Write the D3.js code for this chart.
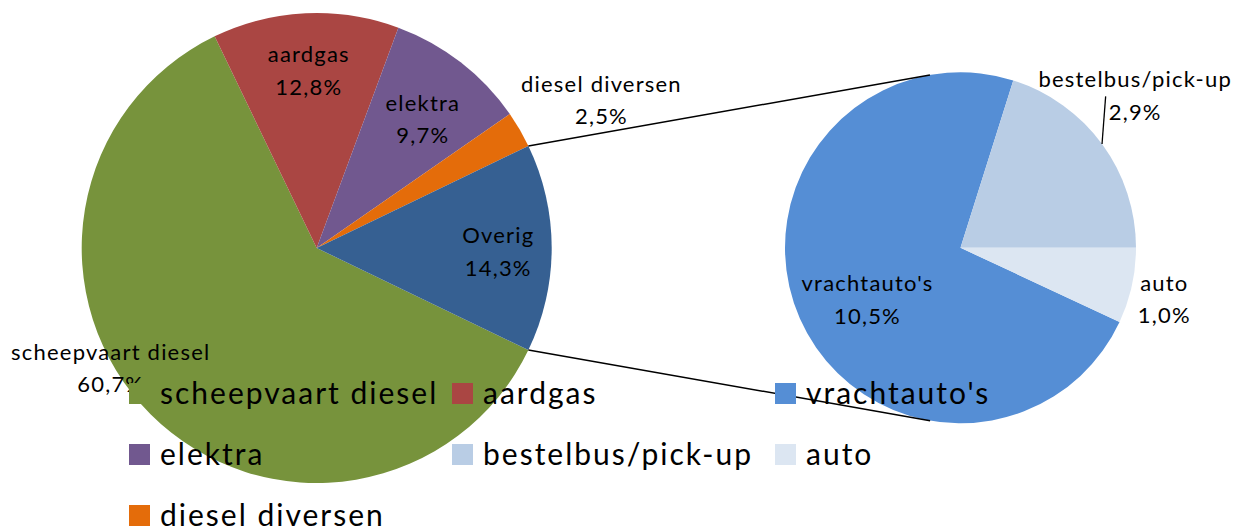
<!DOCTYPE html>
<html>
<head>
<meta charset="utf-8">
<script src="https://cdn.jsdelivr.net/npm/d3@7"></script>
<style>
  html, body { margin: 0; padding: 0; background: #ffffff; }
  svg { display: block; }
  text { font-family: Lato, "Open Sans", sans-serif; fill: #000; }
</style>
</head>
<body>
<svg id="chart" width="1236" height="528"></svg>
<script>
// ---- data ----
const mainCategories = ["scheepvaart diesel", "aardgas", "elektra", "diesel diversen", "Overig"];
const mainValues     = [60.7, 12.8, 9.7, 2.5, 14.3];
const mainLabels     = ["60,7%", "12,8%", "9,7%", "2,5%", "14,3%"];

const subCategories  = ["vrachtauto's", "bestelbus/pick-up", "auto"];
const subValues      = [10.5, 2.9, 1.0];
const subLabels      = ["10,5%", "2,9%", "1,0%"];

const legendOrder = ["scheepvaart diesel", "aardgas", "vrachtauto's",
                     "elektra", "bestelbus/pick-up", "auto", "diesel diversen"];

// ---- styling ----
const colors = {
  "scheepvaart diesel": "#77933C",
  "aardgas": "#AA4643",
  "elektra": "#71588F",
  "diesel diversen": "#E46C0A",
  "Overig": "#366092",
  "vrachtauto's": "#558ED5",
  "bestelbus/pick-up": "#B9CDE5",
  "auto": "#DCE6F2"
};

const W = 1236, H = 528;
const svg = d3.select("#chart");

const main = { cx: 316.7, cy: 248, r: 235 };
const sub  = { cx: 960.5, cy: 247.8, r: 175.5 };

// label placement: [radius factor, angle shift (deg)]
const labelPlace = {
  "scheepvaart diesel": [1.01, 15.5],
  "aardgas": [0.77, 0],
  "elektra": [0.72, 0.8],
  "diesel diversen": [1.37, 2.2],
  "Overig": [0.77, 0],
  "vrachtauto's": [0.6, -3.5],
  "bestelbus/pick-up": [1.33, -5.5],
  "auto": [1.19, 0.8]
};

// ---- main pie ----
const mainTotal = d3.sum(mainValues);
const overigIdx = mainCategories.indexOf("Overig");
const mainStart = Math.PI / 2 + Math.PI * mainValues[overigIdx] / mainTotal - 2 * Math.PI;
const mainPie = d3.pie().sort(null).value(d => d.v)
  .startAngle(mainStart).endAngle(mainStart + 2 * Math.PI);
const mainData = mainPie(mainCategories.map((c, i) => ({ c, v: mainValues[i], l: mainLabels[i] })));

const mainArc = d3.arc().innerRadius(0).outerRadius(main.r);
const gMain = svg.append("g").attr("transform", `translate(${main.cx},${main.cy})`);
gMain.selectAll("path").data(mainData).join("path")
  .attr("d", mainArc).attr("fill", d => colors[d.data.c]);

// ---- secondary pie ----
const subTotal = d3.sum(subValues);
const subStart = Math.PI / 2 + 2 * Math.PI * subValues[subValues.length - 1] / subTotal;
const subPie = d3.pie().sort(null).value(d => d.v)
  .startAngle(subStart).endAngle(subStart + 2 * Math.PI);
const subData = subPie(subCategories.map((c, i) => ({ c, v: subValues[i], l: subLabels[i] })));
const subArc = d3.arc().innerRadius(0).outerRadius(sub.r);
const gSub = svg.append("g").attr("transform", `translate(${sub.cx},${sub.cy})`);
gSub.selectAll("path").data(subData).join("path")
  .attr("d", subArc).attr("fill", d => colors[d.data.c]);

// ---- connector lines (from Overig edges, tangent to secondary pie) ----
const ov = mainData[overigIdx];
function polar(c, r, a) { return [c.cx + r * Math.sin(a), c.cy - r * Math.cos(a)]; }
function tangent(p, c, upper) {
  const dx = p[0] - c.cx, dy = p[1] - c.cy;
  const d = Math.hypot(dx, dy);
  const base = Math.atan2(dy, dx);
  const off = Math.acos(c.r / d);
  const a = upper ? base + off : base - off;
  return [c.cx + c.r * Math.cos(a), c.cy + c.r * Math.sin(a)];
}
const pTop = polar(main, main.r, ov.startAngle);
const pBot = polar(main, main.r, ov.endAngle);
const tTop = tangent(pTop, sub, true);
const tBot = tangent(pBot, sub, false);
svg.append("g").selectAll("line").data([[pTop, tTop], [pBot, tBot]]).join("line")
  .attr("x1", d => d[0][0]).attr("y1", d => d[0][1])
  .attr("x2", d => d[1][0]).attr("y2", d => d[1][1])
  .attr("stroke", "#000").attr("stroke-width", 1.5);

// ---- data labels ----
const LFS = 22, LLS = 1.2, LINE = 32.5;
function drawLabels(g, data, r) {
  data.forEach(d => {
    const pl = labelPlace[d.data.c];
    const mid = (d.startAngle + d.endAngle) / 2 + pl[1] * Math.PI / 180;
    const x = r * pl[0] * Math.sin(mid), y = -r * pl[0] * Math.cos(mid);
    const t = g.append("text").attr("text-anchor", "middle")
      .style("font-size", LFS + "px").style("letter-spacing", LLS + "px");
    t.append("tspan").attr("x", x + LLS / 2).attr("y", y - 5).text(d.data.c);
    t.append("tspan").attr("x", x + LLS / 2).attr("y", y - 5 + LINE).text(d.data.l);
    d.labelPos = [x, y];
  });
}
drawLabels(gMain, mainData, main.r);
drawLabels(gSub, subData, sub.r);

// leader line for bestelbus/pick-up
const bb = subData[1];
const bbMid = (bb.startAngle + bb.endAngle) / 2;
const bbEdge = [sub.r * Math.sin(bbMid), -sub.r * Math.cos(bbMid)];
gSub.append("line")
  .attr("x1", bbEdge[0]).attr("y1", bbEdge[1])
  .attr("x2", bb.labelPos[0] - 29).attr("y2", bb.labelPos[1] + 4)
  .attr("stroke", "#000").attr("stroke-width", 1.3);

// ---- legend ----
const LegFS = 30, LegLS = 2.0;
const legX0 = 129, legY0 = 383, colW = 323, rowH = 61, box = 21;
const leg = svg.append("g");
legendOrder.forEach((name, i) => {
  const col = i % 3, row = Math.floor(i / 3);
  const x = legX0 + col * colW, y = legY0 + row * rowH;
  leg.append("rect").attr("x", x).attr("y", y).attr("width", box).attr("height", box)
    .attr("fill", colors[name]);
  leg.append("text").attr("x", x + 31).attr("y", y + box)
    .style("font-size", LegFS + "px").style("letter-spacing", LegLS + "px")
    .text(name);
});
</script>
</body>
</html>
